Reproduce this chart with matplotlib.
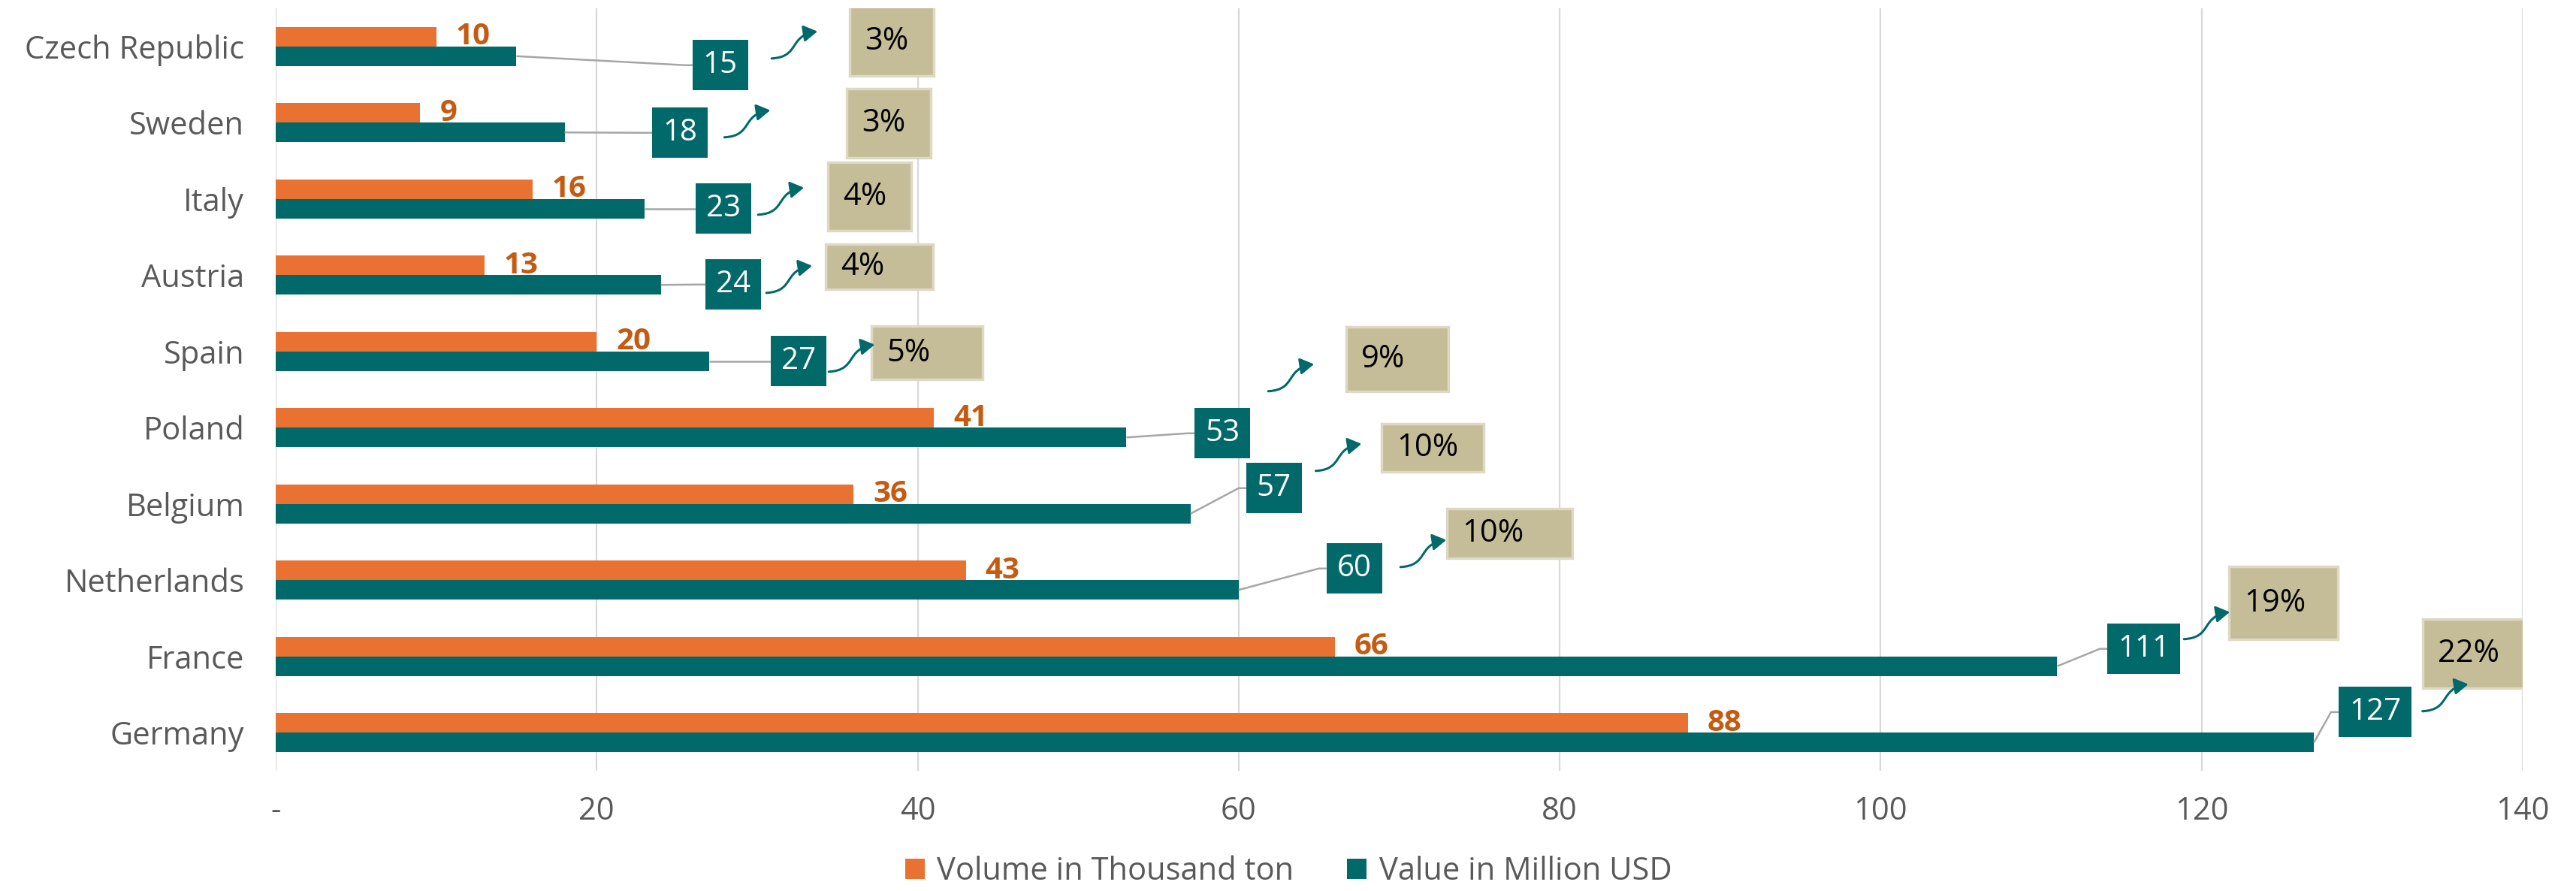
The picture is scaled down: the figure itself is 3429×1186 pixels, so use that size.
import matplotlib
matplotlib.use("Agg")
import matplotlib.pyplot as plt
from matplotlib.patches import Rectangle, FancyArrowPatch, Patch
from matplotlib.path import Path
import numpy as np

# ---------------- data ----------------
categories = ["Czech Republic", "Sweden", "Italy", "Austria", "Spain",
              "Poland", "Belgium", "Netherlands", "France", "Germany"]
volume = [10, 9, 16, 13, 20, 41, 36, 43, 66, 88]          # thousand ton
value = [15, 18, 23, 24, 27, 53, 57, 60, 111, 127]        # million USD
share_pct = [3, 3, 4, 4, 5, 9, 10, 10, 19, 22]            # share of value, %
x_ticks = [0, 20, 40, 60, 80, 100, 120, 140]
x_tick_labels = ["-", "20", "40", "60", "80", "100", "120", "140"]
series_names = ["Volume in Thousand ton", "Value in Million USD"]

# ---------------- style ----------------
ORANGE = "#E97132"
TEAL = "#02696A"
ORANGE_TXT = "#C55A11"
TAN = "#C4BD97"
TAN_EDGE = "#DDD9C4"
GREY_TXT = "#595959"
GRID = "#D9D9D9"
LEADER = "#A6A6A6"
FONT = ["Open Sans", "DejaVu Sans"]
FS = 30

plt.rcParams["font.family"] = FONT

# ---------------- layout (label placement) ----------------
BAR_H = 0.256
val_box_x = [27.7, 25.2, 27.9, 28.5, 32.6, 59.0, 62.2, 67.2, 116.4, 130.8]
val_box_y = [0.246, 1.133, 2.128, 3.123, 4.128, 5.074, 5.793, 6.847, 7.90, 8.73]
pct_box_x = [38.4, 38.2, 37.0, 37.6, 40.6, 69.9, 72.1, 76.9, 125.1, 137.1]
pct_box_y = [-0.069, 1.005, 1.97, 2.887, 4.02, 4.10, 5.26, 6.39, 7.30, 7.96]
pct_box_w = [112, 112, 111, 143, 148, 136, 136, 167, 145, 143]   # px
pct_box_h = [93, 92, 91, 60, 71, 86, 64, 66, 97, 92]             # px
arrow_x = [30.9, 27.96, 30.06, 30.57, 34.46, 61.84, 64.8, 70.08, 118.9, 133.76]
arrow_y = [0.158, 1.192, 2.207, 3.232, 4.266, 4.522, 5.567, 6.828, 7.773, 8.719]

W_PX, H_PX, DPI = 3430, 1186, 100
AX_RECT = [0.107, 0.1349, 0.872, 0.8558]
XMAX = 140

fig = plt.figure(figsize=(W_PX / DPI, H_PX / DPI), dpi=DPI)
ax = fig.add_axes(AX_RECT)

ux = AX_RECT[2] * W_PX / XMAX            # px per x unit
uy = AX_RECT[3] * H_PX / len(categories)  # px per category unit

y = np.arange(len(categories))
ax.barh(y - BAR_H / 2, volume, height=BAR_H, color=ORANGE, zorder=3)
ax.barh(y + BAR_H / 2, value, height=BAR_H, color=TEAL, zorder=3)

ax.set_xlim(0, XMAX)
ax.set_ylim(len(categories) - 0.5, -0.5)
ax.set_xticks(x_ticks)
ax.set_xticklabels(x_tick_labels)
ax.set_yticks(y)
ax.set_yticklabels(categories)
ax.tick_params(axis="both", length=0, labelsize=FS, labelcolor=GREY_TXT)
ax.tick_params(axis="x", pad=24)
ax.tick_params(axis="y", pad=30)
ax.grid(axis="x", color=GRID, linewidth=1.6, zorder=0)
ax.set_axisbelow(True)
for s in ax.spines.values():
    s.set_visible(False)

for i in range(len(categories)):
    # volume label
    ax.text(volume[i] + 26 / ux, i - BAR_H / 2, str(volume[i]), ha="left", va="center",
            fontsize=FS - 1, fontweight="bold", color=ORANGE_TXT, zorder=5)

    # value box + leader line
    txt = str(value[i])
    bw = (28 + 23 * len(txt)) / ux
    bh = 67 / uy
    cx, cy = val_box_x[i], val_box_y[i]
    left = cx - bw / 2
    yb = i + BAR_H / 2
    ax.plot([value[i], left - 10 / ux, left], [yb, cy, cy], color=LEADER,
            linewidth=1.8, zorder=4, solid_capstyle="butt")
    ax.add_patch(Rectangle((left, cy - bh / 2), bw, bh, facecolor=TEAL,
                           edgecolor="none", zorder=5))
    ax.text(cx, cy, txt, ha="center", va="center", color="white", fontsize=FS - 1, zorder=6)

    # share box
    pw = pct_box_w[i] / ux
    ph = pct_box_h[i] / uy
    px0 = pct_box_x[i] - pw / 2
    ax.add_patch(Rectangle((px0, pct_box_y[i] - ph / 2), pw, ph, facecolor=TAN,
                           edgecolor=TAN_EDGE, linewidth=2.5, zorder=5))
    ax.text(px0 + 20 / ux, pct_box_y[i], f"{share_pct[i]}%", ha="left", va="center",
            color="black", fontsize=FS, zorder=6)

    # curved arrow
    x0, y0 = arrow_x[i], arrow_y[i]
    pts_px = [(0, 0), (38, 2), (22, 30), (61, 36)]
    verts = [(x0 + dx / ux, y0 - dy / uy) for dx, dy in pts_px]
    path = Path(verts, [Path.MOVETO, Path.CURVE4, Path.CURVE4, Path.CURVE4])
    arr = FancyArrowPatch(path=path, arrowstyle="-|>,head_length=0.5,head_width=0.3",
                          mutation_scale=22, color=TEAL, linewidth=2.2, zorder=6)
    ax.add_patch(arr)

handles = [Patch(facecolor=ORANGE, label=series_names[0]),
           Patch(facecolor=TEAL, label=series_names[1])]
leg = fig.legend(handles=handles, loc="center", bbox_to_anchor=(0.5, 26 / H_PX), ncol=2,
                 frameon=False, fontsize=FS, handlelength=0.62, handleheight=0.62,
                 handletextpad=0.4, columnspacing=1.7)
for t in leg.get_texts():
    t.set_color(GREY_TXT)

fig.savefig("out.png", dpi=DPI)
